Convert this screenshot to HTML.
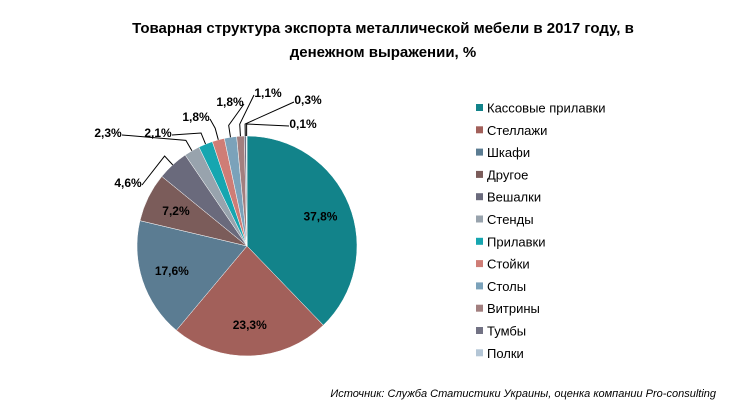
<!DOCTYPE html>
<html><head><meta charset="utf-8"><style>
body{margin:0;background:#fff;font-family:"Liberation Sans",Arial,sans-serif}
svg text{font-family:"Liberation Sans",Arial,sans-serif}
</style></head><body>
<svg width="729" height="413" viewBox="0 0 729 413">
<text x="383" y="33" text-anchor="middle" font-size="15" font-weight="bold">Товарная структура экспорта металлической мебели в 2017 году, в</text>
<text x="383" y="57" text-anchor="middle" font-size="15" font-weight="bold">денежном выражении, %</text>
<g id="pie"></g>
<g id="labels"></g>
<g id="legend"></g>
<text x="716" y="397" text-anchor="end" font-size="11" font-style="italic">Источник: Служба Статистики Украины, оценка компании Pro-consulting</text>
</svg>
<script>
const categories=["Кассовые прилавки","Стеллажи","Шкафи","Другое","Вешалки","Стенды","Прилавки","Стойки","Столы","Витрины","Тумбы","Полки"];
const values=[37.8,23.3,17.6,7.2,4.6,2.3,2.1,1.8,1.8,1.1,0.3,0.1];
const valueLabels=["37,8%","23,3%","17,6%","7,2%","4,6%","2,3%","2,1%","1,8%","1,8%","1,1%","0,3%","0,1%"];
const colors=["#12838a","#a2605a","#5b7c92","#7b5c5a","#6a6a7c","#98a3ad","#16a6b0","#cf7d76","#7ba2ba","#a27f7f","#727284","#b4c6d6"];
const NS="http://www.w3.org/2000/svg";
const cx=247,cy=246,R=110;
const pie=document.getElementById('pie'),lab=document.getElementById('labels'),leg=document.getElementById('legend');
const total=values.reduce((a,b)=>a+b,0);
// outside label anchor offsets for small slices (layout, not data)
const outside=[null,null,null,null,[128,183],[108,133],[158,133],[196,117],[230,102],[268,93],[308,100],[303,124]];
function pt(a,r){return [cx+r*Math.sin(a),cy-r*Math.cos(a)];}
let start=0;
values.forEach((v,i)=>{
  const ang=v/total*2*Math.PI,end=start+ang;
  const [x1,y1]=pt(start,R),[x2,y2]=pt(end,R);
  const p=document.createElementNS(NS,'path');
  p.setAttribute('d',`M${cx},${cy}L${x1},${y1}A${R},${R} 0 ${ang>Math.PI?1:0} 1 ${x2},${y2}Z`);
  p.setAttribute('fill',colors[i]);
  p.setAttribute('stroke','#fff');p.setAttribute('stroke-width','0.5');
  
  
  pie.appendChild(p);
  const mid=(start+end)/2;
  const t=document.createElementNS(NS,'text');
  t.setAttribute('font-size','12');t.setAttribute('font-weight','bold');
  t.setAttribute('text-anchor','middle');
  let lx,ly;
  if(outside[i]){
    [lx,ly]=outside[i];
    const [ex,ey]=pt(mid,R),[bx,by]=pt(mid,R+12);
    const l=document.createElementNS(NS,'polyline');
    const tx=lx+(lx<cx?14:-14), ty=ly+2;
    l.setAttribute('points',`${ex},${ey} ${bx},${by} ${tx},${ty}`);
    l.setAttribute('fill','none');l.setAttribute('stroke','#000');l.setAttribute('stroke-width','1');
    
    
    lab.appendChild(l);
  } else {
    [lx,ly]=pt(mid,R*0.72);
  }
  t.setAttribute('x',lx);t.setAttribute('y',ly+4);
  t.textContent=valueLabels[i];
  
  
  lab.appendChild(t);
  // legend
  const y=108+i*22.3;
  const r=document.createElementNS(NS,'rect');
  r.setAttribute('x',476);r.setAttribute('y',y-4);r.setAttribute('width',7);r.setAttribute('height',7);
  r.setAttribute('fill',colors[i]);
  
  
  leg.appendChild(r);
  const lt=document.createElementNS(NS,'text');
  lt.setAttribute('x',487);lt.setAttribute('y',y+4.5);lt.setAttribute('font-size','13');
  lt.textContent=categories[i];
  
  
  leg.appendChild(lt);
  start=end;
});
</script>
</body></html>
